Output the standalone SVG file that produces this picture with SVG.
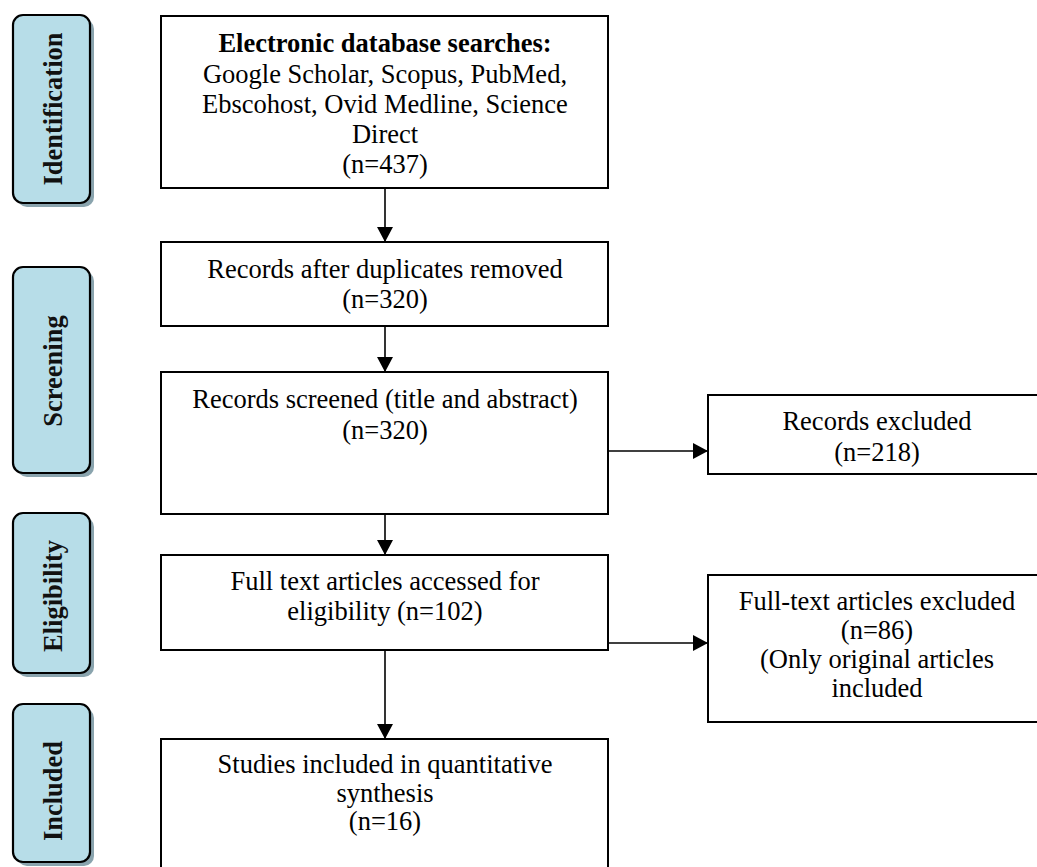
<svg xmlns="http://www.w3.org/2000/svg" width="1037" height="867" viewBox="0 0 1037 867">
<style>
.bg{fill:#ffffff}
.box{fill:#ffffff;stroke:#000;stroke-width:2}
.side{fill:#b7dde8;stroke:#000;stroke-width:2.2}
.shadow{fill:#8aa4ae}
.t{font-family:"Liberation Serif","Times New Roman",serif;font-size:26.5px;fill:#000;text-anchor:middle}
.b{font-weight:bold}
.st{font-family:"Liberation Serif","Times New Roman",serif;font-size:26.5px;font-weight:bold;fill:#111;text-anchor:middle}
.c{stroke:#000;stroke-width:1.6;fill:none}
</style>
<defs>
<marker id="ah" markerUnits="userSpaceOnUse" markerWidth="16" markerHeight="16" refX="15" refY="8" orient="auto">
<path d="M0,0 L15,8 L0,16 z" fill="#000"/>
</marker>
</defs>
<rect class="bg" x="0" y="0" width="1037" height="867"/>

<g id="phase-identification">
<rect class="shadow" x="17" y="19" width="77" height="188" rx="10"/>
<rect class="side" x="13" y="15" width="77" height="188" rx="10"/>
<text class="st" transform="translate(62,109) rotate(-90)">Identification</text>
</g>
<g id="phase-screening">
<rect class="shadow" x="17" y="271" width="77" height="206" rx="10"/>
<rect class="side" x="13" y="267" width="77" height="206" rx="10"/>
<text class="st" transform="translate(62,371) rotate(-90)">Screening</text>
</g>
<g id="phase-eligibility">
<rect class="shadow" x="17" y="517" width="77" height="160" rx="10"/>
<rect class="side" x="13" y="513" width="77" height="160" rx="10"/>
<text class="st" transform="translate(62,596) rotate(-90)">Eligibility</text>
</g>
<g id="phase-included">
<rect class="shadow" x="17" y="708" width="77" height="158" rx="10"/>
<rect class="side" x="13" y="704" width="77" height="158" rx="10"/>
<text class="st" transform="translate(62,791) rotate(-90)">Included</text>
</g>

<g id="connectors">
<line class="c" x1="385" y1="188" x2="385" y2="242" marker-end="url(#ah)"/>
<line class="c" x1="385" y1="326" x2="385" y2="372" marker-end="url(#ah)"/>
<line class="c" x1="385" y1="514" x2="385" y2="555" marker-end="url(#ah)"/>
<line class="c" x1="385" y1="650" x2="385" y2="739" marker-end="url(#ah)"/>
<line class="c" x1="608" y1="451" x2="708" y2="451" marker-end="url(#ah)"/>
<line class="c" x1="608" y1="643" x2="708" y2="643" marker-end="url(#ah)"/>
</g>

<g id="box-search">
<rect class="box" x="161" y="16" width="447" height="172"/>
<text class="t b" x="385" y="52">Electronic database searches:</text>
<text class="t" x="385" y="83">Google Scholar, Scopus, PubMed,</text>
<text class="t" x="385" y="113">Ebscohost, Ovid Medline, Science</text>
<text class="t" x="385" y="143">Direct</text>
<text class="t" x="385" y="173">(n=437)</text>
</g>
<g id="box-duplicates">
<rect class="box" x="161" y="242" width="447" height="84"/>
<text class="t" x="385" y="278">Records after duplicates removed</text>
<text class="t" x="385" y="308">(n=320)</text>
</g>
<g id="box-screened">
<rect class="box" x="161" y="372" width="447" height="142"/>
<text class="t" x="385" y="408">Records screened (title and abstract)</text>
<text class="t" x="385" y="439">(n=320)</text>
</g>
<g id="box-excluded">
<rect class="box" x="708" y="395" width="345" height="79"/>
<text class="t" x="877" y="430">Records excluded</text>
<text class="t" x="877" y="461">(n=218)</text>
</g>
<g id="box-fulltext">
<rect class="box" x="161" y="555" width="447" height="95"/>
<text class="t" x="385" y="590">Full text articles accessed for</text>
<text class="t" x="385" y="620">eligibility (n=102)</text>
</g>
<g id="box-fulltext-excluded">
<rect class="box" x="708" y="575" width="345" height="147"/>
<text class="t" x="877" y="610">Full-text articles excluded</text>
<text class="t" x="877" y="639">(n=86)</text>
<text class="t" x="877" y="668">(Only original articles</text>
<text class="t" x="877" y="697">included</text>
</g>
<g id="box-included">
<rect class="box" x="161" y="739" width="447" height="150"/>
<text class="t" x="385" y="773">Studies included in quantitative</text>
<text class="t" x="385" y="802">synthesis</text>
<text class="t" x="385" y="830">(n=16)</text>
</g>
</svg>
